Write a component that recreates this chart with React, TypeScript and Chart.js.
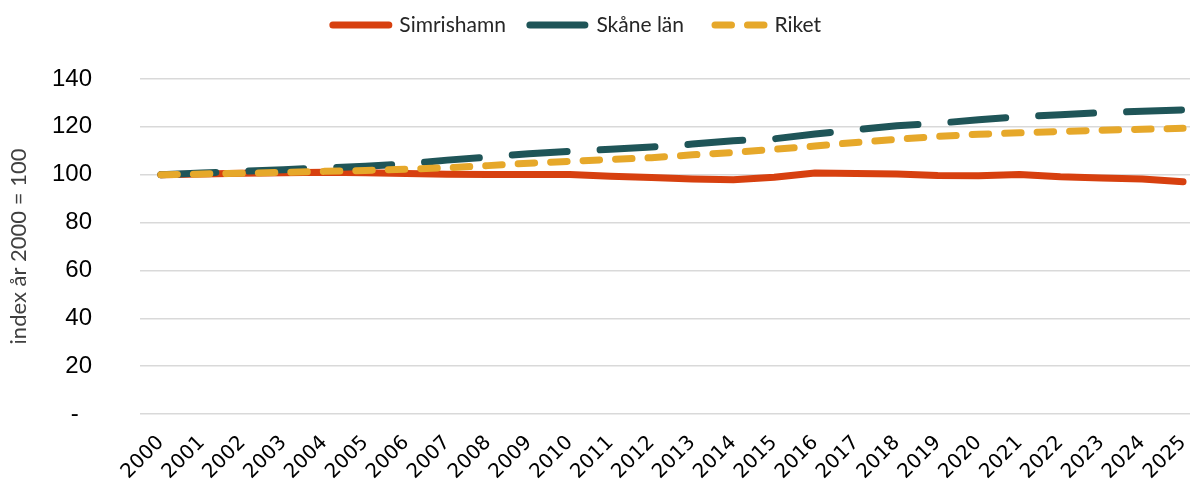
import React, { useEffect, useRef } from 'react';
import { Chart, registerables } from 'chart.js';

Chart.register(...registerables);

const years = [
  '2000', '2001', '2002', '2003', '2004', '2005', '2006', '2007', '2008', '2009',
  '2010', '2011', '2012', '2013', '2014', '2015', '2016', '2017', '2018', '2019',
  '2020', '2021', '2022', '2023', '2024', '2025',
];

const simrishamn = [
  100, 100.3, 100.6, 100.8, 101, 100.8, 100.5, 100.2, 100.1, 100.1,
  100.1, 99.4, 98.8, 98.2, 97.9, 98.9, 100.7, 100.5, 100.3, 99.7,
  99.6, 100.1, 99.1, 98.6, 98.2, 97.1,
];

const skane = [
  100, 100.7, 101.4, 102.1, 102.8, 103.5, 104.5, 106.1, 107.4, 108.8,
  109.8, 110.6, 111.6, 112.8, 114.2, 115.0, 117.0, 118.8, 120.5, 121.5,
  123.0, 124.2, 125.1, 125.9, 126.5, 127.1,
];

const riket = [
  100, 100.3, 100.6, 101.0, 101.4, 101.8, 102.3, 102.9, 103.8, 104.8,
  105.6, 106.4, 107.1, 108.3, 109.3, 110.6, 112.0, 113.5, 114.8, 116.0,
  116.9, 117.5, 118.1, 118.6, 119.0, 119.4,
];

const seriesLabels = ['Simrishamn', 'Skåne län', 'Riket'];
const yTickValues = [0, 20, 40, 60, 80, 100, 120, 140];
const yTitle = 'index år 2000 = 100';

const RED = '#D7400F';
const TEAL = '#1F5558';
const GOLD = '#E6A82A';

const LEGEND_DX = -18;
const LEGEND_DY = -33.5;

const toPoints = (vals: number[]) => vals.map((v, i) => ({ x: i, y: v }));

const legendShift = {
  id: 'legendShift',
  afterLayout(chart: any) {
    const lg = chart.legend;
    if (!lg) return;
    lg.top += LEGEND_DY;
    lg.bottom += LEGEND_DY;
    lg.left += LEGEND_DX;
    lg.right += LEGEND_DX;
  },
};

export default function App() {
  const ref = useRef<HTMLCanvasElement>(null);

  useEffect(() => {
    if (!ref.current) return;
    const legendOffsets = [0, 0, 25.5];
    const chart = new Chart(ref.current, {
      type: 'line',
      plugins: [legendShift],
      data: {
        datasets: [
          {
            label: seriesLabels[0],
            data: toPoints(simrishamn),
            borderColor: RED,
            backgroundColor: RED,
            borderWidth: 7,
            borderCapStyle: 'round',
            borderJoinStyle: 'round',
            pointRadius: 0,
            tension: 0,
            fill: false,
            order: 2,
          },
          {
            label: seriesLabels[1],
            data: toPoints(skane),
            borderColor: TEAL,
            backgroundColor: TEAL,
            borderWidth: 7,
            borderDash: [55, 33],
            borderCapStyle: 'round',
            borderJoinStyle: 'round',
            pointRadius: 0,
            tension: 0,
            fill: false,
            order: 1,
          },
          {
            label: seriesLabels[2],
            data: toPoints(riket),
            borderColor: GOLD,
            backgroundColor: GOLD,
            borderWidth: 7,
            borderDash: [16.5, 16],
            borderCapStyle: 'round',
            borderJoinStyle: 'round',
            pointRadius: 0,
            tension: 0,
            fill: false,
            order: 0,
          },
        ],
      },
      options: {
        responsive: false,
        animation: false,
        layout: { padding: { top: 24, right: 2, left: 0, bottom: 0 } },
        plugins: {
          tooltip: { enabled: false },
          legend: {
            display: true,
            position: 'top',
            align: 'center',
            labels: {
              usePointStyle: true,
              pointStyle: 'line',
              pointStyleWidth: 56,
              boxHeight: 10,
              padding: 24,
              color: '#262626',
              font: { family: 'Lato', size: 21 },
              sort: (a: any, b: any) => a.datasetIndex - b.datasetIndex,
              generateLabels: (c: any) => {
                const items = (Chart.defaults.plugins.legend.labels as any).generateLabels(c);
                return items.map((it: any) => {
                  const ds = c.data.datasets[it.datasetIndex];
                  return {
                    ...it,
                    pointStyle: 'line',
                    lineDash: ds.borderDash || [],
                    lineDashOffset: legendOffsets[it.datasetIndex] || 0,
                    lineCap: 'round',
                    lineWidth: 7,
                    strokeStyle: ds.borderColor,
                    fillStyle: ds.borderColor,
                  };
                });
              },
            },
          },
        },
        scales: {
          x: {
            type: 'linear',
            min: -0.51,
            max: 25.17,
            afterBuildTicks: (s: any) => {
              s.ticks = years.map((_, i) => ({ value: i }));
            },
            afterFit: (s: any) => {
              s.height = 70;
              s.paddingLeft = 0;
              s.paddingRight = 0;
            },
            ticks: {
              autoSkip: false,
              minRotation: 45,
              maxRotation: 45,
              padding: 17,
              color: '#000000',
              font: { family: 'DejaVu Sans', size: 20 },
              callback: (v: any) => years[Math.round(Number(v))] ?? '',
            },
            grid: { display: false, drawTicks: false },
            border: { display: false },
          },
          y: {
            min: 0,
            max: 140,
            afterBuildTicks: (s: any) => {
              s.ticks = yTickValues.map((v) => ({ value: v }));
            },
            afterFit: (s: any) => {
              s.width = 140;
            },
            ticks: {
              padding: 48,
              color: '#000000',
              font: { family: 'Liberation Sans', size: 24 },
              callback: (v: any) => (Number(v) === 0 ? '-  ' : String(v)),
            },
            grid: { color: '#d9d9d9', lineWidth: 1.5, drawTicks: false },
            border: { display: false },
            title: {
              display: true,
              text: yTitle,
              color: '#404040',
              font: { family: 'Lato', size: 22 },
              padding: { top: 6, bottom: 0 },
            },
          },
        },
      },
    });
    return () => chart.destroy();
  }, []);

  return (
    <div style={{ position: 'fixed', left: 0, top: 0, width: 1192, height: 484, background: '#fff' }}>
      <canvas ref={ref} width={1192} height={484} style={{ display: 'block' }} />
    </div>
  );
}
